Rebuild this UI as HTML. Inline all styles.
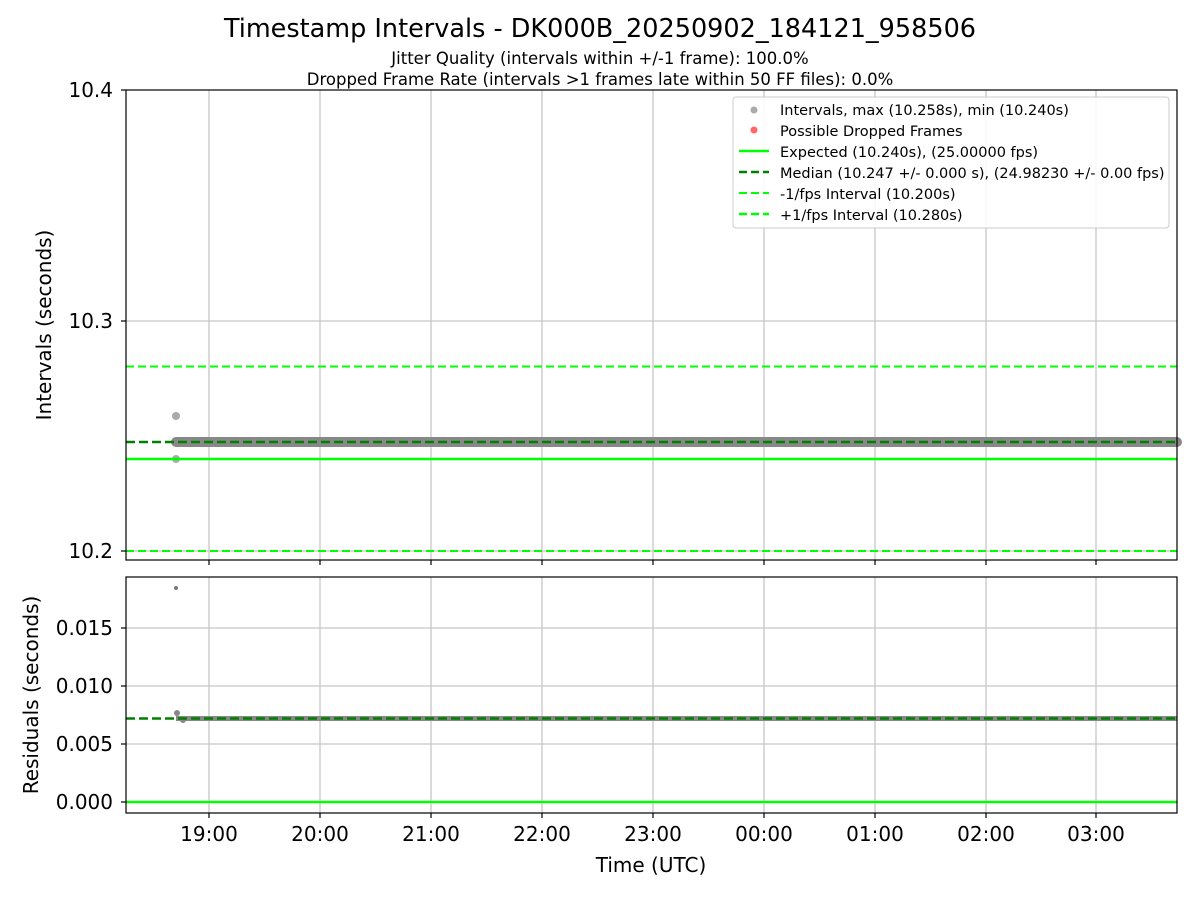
<!DOCTYPE html>
<html><head><meta charset="utf-8"><style>body{margin:0;background:#fff}svg{display:block}text{font-family:"DejaVu Sans","Liberation Sans",sans-serif;fill:#000}</style></head><body>
<svg width="1200" height="900" xmlns="http://www.w3.org/2000/svg">
<text x="600" y="37" font-size="25.5" text-anchor="middle">Timestamp Intervals - DK000B_20250902_184121_958506</text>
<text x="600" y="64" font-size="16.5" text-anchor="middle">Jitter Quality (intervals within +/-1 frame): 100.0%</text>
<text x="600" y="85" font-size="16.5" text-anchor="middle">Dropped Frame Rate (intervals &gt;1 frames late within 50 FF files): 0.0%</text>
<g stroke="#b0b0b0" stroke-width="1.3" opacity="0.7">
<line x1="209" y1="90" x2="209" y2="560"/><line x1="320" y1="90" x2="320" y2="560"/><line x1="431" y1="90" x2="431" y2="560"/><line x1="542" y1="90" x2="542" y2="560"/><line x1="653" y1="90" x2="653" y2="560"/><line x1="764" y1="90" x2="764" y2="560"/><line x1="875" y1="90" x2="875" y2="560"/><line x1="986" y1="90" x2="986" y2="560"/><line x1="1096" y1="90" x2="1096" y2="560"/>
<line x1="126" y1="321" x2="1177" y2="321"/><line x1="126" y1="551" x2="1177" y2="551"/>
<line x1="209" y1="577" x2="209" y2="813"/><line x1="320" y1="577" x2="320" y2="813"/><line x1="431" y1="577" x2="431" y2="813"/><line x1="542" y1="577" x2="542" y2="813"/><line x1="653" y1="577" x2="653" y2="813"/><line x1="764" y1="577" x2="764" y2="813"/><line x1="875" y1="577" x2="875" y2="813"/><line x1="986" y1="577" x2="986" y2="813"/><line x1="1096" y1="577" x2="1096" y2="813"/>
<line x1="126" y1="628" x2="1177" y2="628"/><line x1="126" y1="686" x2="1177" y2="686"/><line x1="126" y1="744" x2="1177" y2="744"/><line x1="126" y1="802" x2="1177" y2="802"/>
</g>
<line x1="176" y1="442" x2="1177" y2="442" stroke="#888" stroke-width="10" stroke-linecap="round"/>
<circle cx="176" cy="416" r="4" fill="#aaa"/><circle cx="176" cy="459" r="4" fill="#aaa"/>
<line x1="126" y1="366.5" x2="1177" y2="366.5" stroke="#00ff00" stroke-width="2" stroke-dasharray="8,4"/>
<line x1="126" y1="551" x2="1177" y2="551" stroke="#00ff00" stroke-width="2" stroke-dasharray="8,4"/>
<line x1="126" y1="459" x2="1177" y2="459" stroke="#00ff00" stroke-width="2.5"/>
<line x1="126" y1="442" x2="1177" y2="442" stroke="#008000" stroke-width="2.5" stroke-dasharray="9,4"/>
<line x1="176" y1="718.5" x2="1177" y2="718.5" stroke="#888" stroke-width="5"/>
<circle cx="176" cy="588" r="2" fill="#777"/><circle cx="177" cy="713" r="3" fill="#888"/><circle cx="183" cy="720" r="3" fill="#888"/>
<line x1="126" y1="802" x2="1177" y2="802" stroke="#00ff00" stroke-width="2.5"/>
<line x1="126" y1="718.5" x2="1177" y2="718.5" stroke="#008000" stroke-width="2.5" stroke-dasharray="9,4"/>
<rect x="126" y="90" width="1051" height="470" fill="none" stroke="#000" stroke-width="1.2"/>
<rect x="126" y="577" width="1051" height="236" fill="none" stroke="#000" stroke-width="1.2"/>
<g stroke="#000" stroke-width="1.2">
<line x1="121" y1="90" x2="126" y2="90"/><line x1="121" y1="321" x2="126" y2="321"/><line x1="121" y1="551" x2="126" y2="551"/>
<line x1="121" y1="628" x2="126" y2="628"/><line x1="121" y1="686" x2="126" y2="686"/><line x1="121" y1="744" x2="126" y2="744"/><line x1="121" y1="802" x2="126" y2="802"/>
<line x1="209" y1="560" x2="209" y2="565"/><line x1="320" y1="560" x2="320" y2="565"/><line x1="431" y1="560" x2="431" y2="565"/><line x1="542" y1="560" x2="542" y2="565"/><line x1="653" y1="560" x2="653" y2="565"/><line x1="764" y1="560" x2="764" y2="565"/><line x1="875" y1="560" x2="875" y2="565"/><line x1="986" y1="560" x2="986" y2="565"/><line x1="1096" y1="560" x2="1096" y2="565"/>
<line x1="209" y1="813" x2="209" y2="818"/><line x1="320" y1="813" x2="320" y2="818"/><line x1="431" y1="813" x2="431" y2="818"/><line x1="542" y1="813" x2="542" y2="818"/><line x1="653" y1="813" x2="653" y2="818"/><line x1="764" y1="813" x2="764" y2="818"/><line x1="875" y1="813" x2="875" y2="818"/><line x1="986" y1="813" x2="986" y2="818"/><line x1="1096" y1="813" x2="1096" y2="818"/>
</g>
<g font-size="20" text-anchor="end">
<text x="113" y="97">10.4</text><text x="113" y="328">10.3</text><text x="113" y="558">10.2</text>
<text x="113" y="635">0.015</text><text x="113" y="693">0.010</text><text x="113" y="751">0.005</text><text x="113" y="809">0.000</text>
</g>
<g font-size="20" text-anchor="middle">
<text x="209" y="841">19:00</text><text x="320" y="841">20:00</text><text x="431" y="841">21:00</text><text x="542" y="841">22:00</text><text x="653" y="841">23:00</text><text x="764" y="841">00:00</text><text x="875" y="841">01:00</text><text x="986" y="841">02:00</text><text x="1096" y="841">03:00</text>
<text x="651" y="872">Time (UTC)</text>
<text transform="translate(51,325) rotate(-90)">Intervals (seconds)</text>
<text transform="translate(38,695) rotate(-90)">Residuals (seconds)</text>
</g>
<rect x="733" y="97" width="436" height="131" rx="3" fill="#fff" fill-opacity="0.85" stroke="#ccc"/>
<circle cx="754" cy="110" r="3.5" fill="#aaa"/>
<circle cx="754" cy="130" r="3.5" fill="#ff6666"/>
<line x1="739" y1="151" x2="769" y2="151" stroke="#00ff00" stroke-width="2.5"/>
<line x1="739" y1="172" x2="769" y2="172" stroke="#008000" stroke-width="2.5" stroke-dasharray="8,4"/>
<line x1="739" y1="193" x2="769" y2="193" stroke="#00ff00" stroke-width="2" stroke-dasharray="8,4"/>
<line x1="739" y1="214" x2="769" y2="214" stroke="#00ff00" stroke-width="2.5" stroke-dasharray="8,4"/>
<g font-size="14.5">
<text x="780" y="115">Intervals, max (10.258s), min (10.240s)</text>
<text x="780" y="136">Possible Dropped Frames</text>
<text x="780" y="157">Expected (10.240s), (25.00000 fps)</text>
<text x="780" y="178">Median (10.247 +/- 0.000 s), (24.98230 +/- 0.00 fps)</text>
<text x="780" y="199">-1/fps Interval (10.200s)</text>
<text x="780" y="220">+1/fps Interval (10.280s)</text>
</g>
</svg>
</body></html>
